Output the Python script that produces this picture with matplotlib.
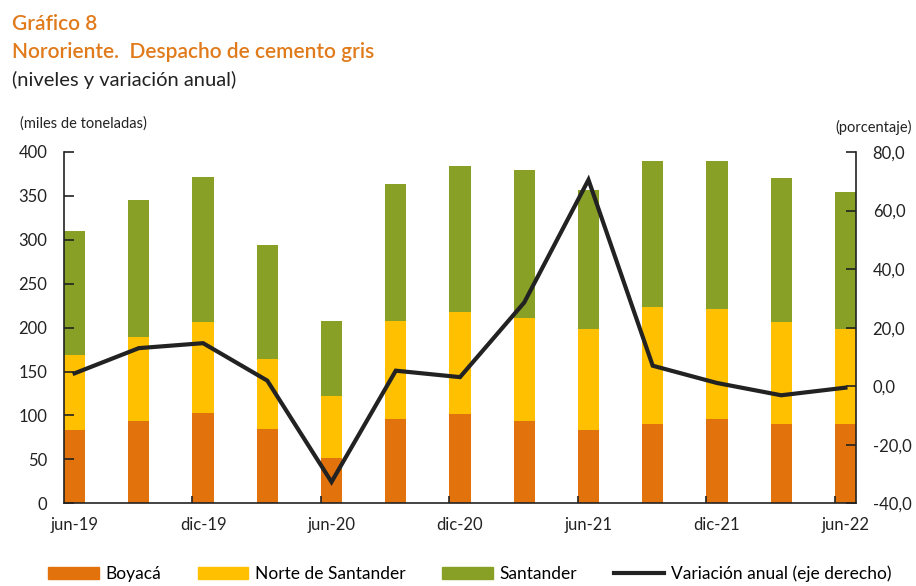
import matplotlib
matplotlib.use("Agg")
import matplotlib.pyplot as plt
import numpy as np
from matplotlib.patches import Patch
from matplotlib.lines import Line2D

plt.rcParams['font.family'] = ['Lato', 'DejaVu Sans']

periods = ["jun-19", "sep-19", "dic-19", "mar-20", "jun-20", "sep-20", "dic-20",
           "mar-21", "jun-21", "sep-21", "dic-21", "mar-22", "jun-22"]
boyaca = [84, 94, 103, 85, 52, 96, 102, 94, 83, 90, 96, 90, 90]
norte_cum = [169, 189, 207, 164, 122, 208, 218, 211, 199, 223, 221, 207, 198]
total = [310, 345, 371, 294, 208, 364, 384, 380, 357, 390, 390, 370, 355]
variacion = [4.4, 13.0, 14.7, 1.9, -32.7, 5.3, 3.1, 28.6, 70.5, 7.0, 1.1, -3.1, -0.5]

norte = [n - b for n, b in zip(norte_cum, boyaca)]
santander = [t - n for t, n in zip(total, norte_cum)]

c_boy = "#E2720C"
c_nor = "#FFC000"
c_san = "#87A025"
c_title = "#E07A1B"

fig = plt.figure(figsize=(9.16, 5.86), dpi=100)
ax = fig.add_axes([64/916, 1-503.3/586, (856-64)/916, (503.3-152)/586])
ax2 = ax.twinx()

x = np.arange(len(periods))
w = 0.33
off = w/2
ax.bar(x, boyaca, width=w, color=c_boy, linewidth=0)
ax.bar(x, norte, width=w, bottom=boyaca, color=c_nor, linewidth=0)
ax.bar(x, santander, width=w, bottom=norte_cum, color=c_san, linewidth=0)
ax2.plot(x, variacion, color="#222222", lw=3, solid_joinstyle='miter')

ax.set_xlim(-off, len(periods) - 1 + off)
ax.set_ylim(0, 400)
ax.set_yticks(np.arange(0, 401, 50))
ax2.set_ylim(-40, 80)
ax2.set_yticks(np.arange(-40, 81, 20))
ax2.set_yticklabels([f"{v:.1f}".replace(".", ",") for v in np.arange(-40, 81, 20)])

# category label positions at bar centers, tick marks at bar left edges
ax.set_xticks(x[::2])
ax.set_xticklabels(periods[::2])
ax.tick_params(axis='x', length=0, pad=10, labelsize=12, colors="#222222")
ax.set_xticks(x[2::2] - off, minor=True)
ax.tick_params(axis='x', which='minor', direction='in', length=5, width=1.2, color="#222222")

ax.tick_params(axis='y', direction='in', length=7, width=1.2, labelsize=12, pad=12, colors="#222222")
ax2.tick_params(axis='y', direction='in', length=7, width=1.2, labelsize=12, pad=12, colors="#222222")

for a in (ax, ax2):
    a.spines['top'].set_visible(False)
    for s in ('left', 'right', 'bottom'):
        a.spines[s].set_linewidth(1.2)
        a.spines[s].set_color("#222222")
ax.spines['right'].set_visible(False)
ax2.spines['left'].set_visible(False)
ax2.spines['bottom'].set_visible(False)

fig.text(12/916, 1-30/586, "Gráfico 8", color=c_title, fontsize=15, fontweight='semibold')
fig.text(12/916, 1-58/586, "Nororiente.  Despacho de cemento gris", color=c_title, fontsize=15, fontweight='semibold')
fig.text(12/916, 1-86/586, "(niveles y variación anual)", color="#222222", fontsize=14.5)
fig.text(20/916, 1-128/586, "(miles de toneladas)", color="#222222", fontsize=10.5)
fig.text(912/916, 1-132/586, "(porcentaje)", color="#222222", fontsize=10.5, ha='right')

handles = [Patch(color=c_boy), Patch(color=c_nor), Patch(color=c_san),
           Line2D([0], [0], color="#222222", lw=3)]
labels = ["Boyacá", "Norte de Santander", "Santander", "Variación anual (eje derecho)"]
fig.legend(handles, labels, loc='lower center', bbox_to_anchor=(0.513, -0.02), ncol=4,
           frameon=False, fontsize=12.5, handlelength=2.9, handleheight=0.75,
           handletextpad=0.4, columnspacing=2.1)

fig.savefig("out.png", dpi=100)
